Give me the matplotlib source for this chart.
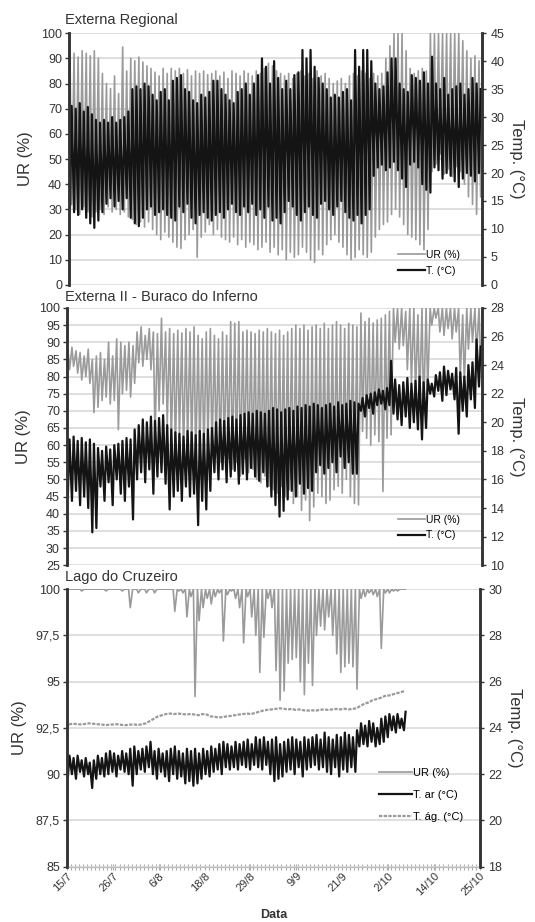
import numpy as np
import matplotlib
matplotlib.use('Agg')
import matplotlib.pyplot as plt
from matplotlib.ticker import FixedLocator, MultipleLocator

plt.rcParams['font.family'] = ['Liberation Sans', 'DejaVu Sans']

# eixo de datas: dias desde 15/7
date_labels = ['15/7', '26/7', '6/8', '18/8', '29/8', '9/9', '21/9', '2/10', '14/10', '25/10']
n_span = 102

# ---- Externa Regional (max/min diarios) ----
t1_max = [32, 31.5, 32.5, 31, 31.8, 30.5, 29.5,
          29, 29.5, 29, 30, 29, 29.5, 30, 31,
          35, 35.5, 35, 36, 35.5, 34, 33, 34.5, 35, 33,
          36.5, 37, 37.5, 35, 34.5, 33, 32.5, 34, 33.5, 34.5,
          36.5, 36.5, 35, 34, 33, 32.5, 34.5, 35, 36, 34,
          36, 37.5, 40.5, 39, 36, 40, 37, 35, 36.5, 35,
          37.5, 38, 42, 40.5, 42, 39, 37, 36, 35, 33.5,
          34, 33.5, 34.5, 35, 33, 42, 39, 42, 42, 40,
          36, 35, 35.5, 38, 40.5, 40.5, 36, 35, 34.5, 37.5,
          37, 36.5, 38, 36, 40.8, 36, 35, 37, 34, 35,
          35.5, 36, 34, 35, 37, 36, 35]
t1_min = [14, 13, 12.5, 13.5, 12, 11, 10.2,
          11.5, 13, 14.5, 15.5, 14, 15, 13.5, 15.5,
          12, 11, 10.5, 12, 13.5, 14, 12.5, 13, 13.5, 12.5,
          12, 11.5, 14, 13, 14.5, 12, 11, 12.5, 13, 12,
          11.5, 12.5, 13, 12, 13.5, 14.5, 13, 12.5, 14, 13,
          14.5, 12.5, 13.5, 12, 14, 11.5, 12, 11, 13, 15,
          14, 12.5, 11.5, 13, 14, 12.5, 12, 14.5, 15, 13.5,
          12.5, 14, 15, 13, 12, 11.5, 12.5, 11, 12.5, 13.5,
          19.5, 21, 21.5, 20.5, 21, 22, 20.5, 19, 17.5, 21.5,
          22, 21, 18, 17, 16.5, 21, 20.5, 19, 20, 19.5,
          18.5, 17.5, 19, 20, 19.5, 18.5, 20]
ur1_max = [91, 92, 90.5, 93, 92, 91, 93,
           90, 84, 80, 78, 83, 76, 94.5, 85,
           90, 89, 90.5, 88.5, 87, 86, 84.5, 83, 86, 84,
           86, 85, 86, 84, 85.5, 83, 85, 84, 85, 83.5,
           84, 85, 83, 84.5, 82, 85, 84, 83, 85, 84,
           83, 85, 84, 86, 88, 87, 85, 84, 83, 84,
           82, 84, 85, 83, 84, 82, 85, 83, 84, 82,
           80, 81, 82, 80, 83, 84, 83, 85, 84, 82,
           84, 83, 84, 90, 95, 100, 100, 100, 93, 86,
           84, 85, 86, 85, 100, 100, 100, 100, 100, 100,
           100, 100, 97, 93, 90, 91, 89]
ur1_min = [32, 30, 28, 31, 29, 27, 29,
           30, 28, 31, 29, 30, 28, 29, 27,
           26, 24, 25, 23, 25, 22, 20, 18, 21, 19,
           17, 15, 14.5, 18, 20, 22, 11, 19, 21, 24,
           20, 22, 19, 18, 17, 19, 16, 18, 15, 17,
           16, 14, 15, 17, 13, 15, 12, 14, 10, 13,
           11, 12, 15, 13, 10, 9, 14, 12, 16, 18,
           20, 17, 15, 12, 10, 11, 14, 12, 11, 13,
           19, 22, 24, 25, 28, 30, 27, 24, 20, 19,
           18, 16, 14, 22, 45, 48, 52, 44, 46, 43,
           47, 45, 40, 35, 32, 28, 35]

# ---- Externa II - Buraco do Inferno ----
t2_max = [18.8, 19, 18.7, 18.9, 18.6, 18.8, 18.5, 18.2,
          18, 18.3, 18.1, 18.4, 18.5, 18.7, 18.9, 18.8,
          19.5, 19.8, 20.2, 20, 20.4, 20.1, 20.3, 20.5,
          19.8, 19.5, 19.3, 19.2, 19, 19.4, 19.3, 19.1,
          19.4, 19.2, 19.5, 19.6, 20, 20.2, 20.1, 20.3,
          20.4, 20.2, 20.5, 20.6, 20.7, 20.6, 20.8, 20.7,
          20.6, 20.8, 21, 20.9, 20.7, 20.9, 21, 20.8,
          21.1, 21, 21.2, 21.1, 21.3, 21.2, 21, 21.2,
          21.3, 21.1, 21.4, 21.2, 21.3, 21.5, 21.4, 21.3,
          21.7, 21.9, 22, 22.1, 22.3, 22.2, 22.4, 24.3,
          23, 22.6, 22.8, 23.1, 22.7, 22.9, 23.2, 22.8,
          23, 22.7, 23.3, 23.5, 23.9, 23.6, 23.4, 23.8,
          23.5, 23.2, 24, 24.2, 25.8, 25.3]
t2_min = [15, 14.5, 15.2, 14.2, 14.8, 14, 12.3, 12.6,
          15.5, 14.5, 15.8, 14.2, 16, 15, 14.5, 15.5,
          13.2, 16, 16.5, 15.8, 16.7, 15, 16.2, 16.5,
          15.7, 13.9, 14.8, 15.2, 14.5, 15.5, 14.8, 15,
          12.8, 14.5, 13.9, 15.2, 16.5, 16, 16.7, 15.8,
          16.2, 16.6, 15.7, 16.4, 16, 16.8, 16.2, 15.9,
          16.5, 15.5, 14.8, 14.2, 13.4, 13.8, 14.6, 15.2,
          14.8, 15.7, 15, 15.4, 15.2, 16.5, 17, 16.4,
          16.8, 17.2, 16.5, 17.6, 16.8, 17.2, 16.4, 16.4,
          20.8, 20.4, 21, 20.6, 21.2, 21.3, 20.9, 21.2,
          20.6, 20.2, 19.8, 20.4, 19.6, 20, 19.5, 18.8,
          19.6, 22, 21.8, 22.2, 21.5, 21.9, 22.3, 21.6,
          19.2, 20.8, 20.4, 21.6, 21, 22.5]
ur2_max = [88, 88.5, 87.5, 87, 86, 88, 85, 86,
           87, 85, 90, 86, 91, 90, 89, 90,
           89, 93, 94.5, 92, 94, 93, 92.5, 97,
           93, 94, 92.5, 93.5, 92.7, 94, 93, 94.5,
           92, 91, 93, 94, 92, 91, 93, 92,
           96, 95.5, 96, 93, 93.5, 93, 92.5, 93.5,
           93, 94, 93, 92.5, 93.5, 92, 93, 94,
           95, 94, 95, 93.5, 94.5, 95, 94, 95.5,
           94, 95, 96, 95, 94, 95.5, 95, 94.5,
           98.5, 96, 97, 95.6, 96.5, 97, 98, 99,
           100, 100, 100, 99, 100, 100, 98, 100,
           100, 100, 100, 100, 100, 100, 100, 100,
           100, 98, 100, 100, 100, 100]
ur2_min = [82, 83, 81, 79, 80, 78, 69.5, 71,
           73, 74, 72, 73, 64.5, 75, 76, 74,
           78, 84, 83, 85, 82, 62, 70, 72,
           66, 60, 58, 62, 56, 60, 58, 55,
           58, 56, 60, 57, 58, 55, 57, 56,
           53, 55, 51, 56, 52, 53, 50, 49,
           51, 48, 47, 46, 48, 45, 47, 43,
           45, 41, 44, 38, 42, 46, 45, 43,
           44, 47, 48, 46, 50, 45, 43, 42.6,
           64, 62, 60, 63, 61, 46.5, 62, 63,
           90, 88, 89, 82, 78, 75, 72, 69,
           76, 95, 97, 93, 92, 94, 91, 93,
           80, 78, 88, 90, 86, 85]

# ---- Lago do Cruzeiro (84 dias) ----
ur3_max = [100] * 84
ur3_min = [100, 100, 100, 99.9, 100, 100, 100, 100, 100, 99.9,
           100, 100, 100, 99.9, 100, 99, 100, 99.8, 100, 99.8,
           100, 99.8, 100, 100, 100, 100, 98.8, 99.9, 99.8, 98.5,
           99.6, 94.2, 98.3, 99, 99.5, 99.2, 99.6, 99.8, 97.2, 99.7,
           99.9, 99.5, 99, 97.1, 99.6, 98.5, 97.5, 95.5, 97.4, 99.5,
           99, 95.6, 94.0, 94.5, 96, 96.2, 96.3, 95, 94.3, 96,
           94.8, 97.5, 98, 97.8, 98.5, 97.5, 96.5, 95.5, 95.8, 96,
           95.8, 94.6, 99.5, 99.6, 99.8, 99.7, 99.6, 96.8, 99.8, 99.8,
           99.9, 99.9, 100, 100]
t3_max = [22.8, 22.7, 22.8, 22.6, 22.7, 22.5, 22.6, 22.8, 22.7, 22.9,
          23, 22.9, 22.8, 23, 22.9, 23.1, 23.2, 23, 23.1, 23.2,
          23.4, 23, 23.1, 22.9, 23, 23.1, 23.2, 23, 22.9, 23.1,
          23, 23.1, 22.9, 23.1, 23, 23.2, 23.1, 23.3, 23.4, 23.3,
          23.2, 23.4, 23.3, 23.4, 23.5, 23.3, 23.6, 23.5, 23.6, 23.4,
          23.5, 23.6, 23.3, 23.4, 23.5, 23.6, 23.5, 23.4, 23.6, 23.5,
          23.6, 23.7, 23.5, 23.8, 23.6, 23.5, 23.7, 23.6, 23.8, 23.7,
          23.6, 23.9, 24.2, 24.1, 24.3, 24.2, 24, 24.4, 24.5, 24.6,
          24.5, 24.6, 24.4, 24.7]
t3_min = [21.9, 22, 21.8, 22.1, 21.9, 22, 21.4, 21.8, 22, 21.9,
          22, 22.1, 21.9, 22.2, 22.1, 22, 21.5, 22, 22.2, 22.1,
          22.3, 22, 21.8, 22.1, 21.9, 21.7, 22, 21.8, 21.9, 21.6,
          21.7, 21.5, 21.6, 21.8, 22, 21.9, 22.1, 22.2, 22, 22.3,
          22.2, 22.3, 22.2, 22.4, 22.3, 22.2, 22.4, 22.3, 22.2, 22.4,
          22, 21.7, 21.8, 21.9, 22.1, 22.2, 22, 22.3, 21.9, 22.2,
          22.3, 22.4, 22.2, 22.3, 22.1, 22, 22.3, 21.9, 22.2, 22.1,
          22.3, 22.1, 23.2, 23.3, 23.2, 23.4, 23.2, 23.3, 23.4, 23.6,
          23.9, 23.8, 24, 23.9]
t3_agua = [24.15, 24.18, 24.16, 24.15, 24.17, 24.2, 24.18, 24.16, 24.15, 24.12,
           24.14, 24.15, 24.16, 24.13, 24.12, 24.14, 24.15, 24.13, 24.15, 24.2,
           24.3, 24.4, 24.5, 24.55, 24.6, 24.62, 24.6, 24.62, 24.6, 24.58,
           24.6, 24.58, 24.55, 24.6, 24.58, 24.5, 24.48, 24.45, 24.47, 24.5,
           24.52, 24.55, 24.58, 24.6, 24.62, 24.6, 24.65, 24.7, 24.75, 24.78,
           24.8, 24.82, 24.85, 24.83, 24.8, 24.82, 24.78, 24.8, 24.76, 24.75,
           24.76, 24.75, 24.78, 24.8, 24.78, 24.8, 24.82, 24.8, 24.83, 24.8,
           24.82, 24.85, 24.95, 25.05, 25.1, 25.2, 25.25, 25.3, 25.38, 25.4,
           25.45, 25.5, 25.55, 25.6]

GRAY = '#9a9a9a'
DARK = '#141414'


def daily(first, second):
    # manha -> primeiro valor, tarde -> segundo valor
    d = np.arange(len(first))
    t = np.column_stack([d + 0.25, d + 0.65]).ravel()
    v = np.column_stack([first, second]).ravel()
    return t, v


def setup(ax, ax2, ylim, yticks, ylim2, yticks2, ylabels=None):
    ax.set_xlim(0, n_span)
    ax.set_ylim(*ylim)
    ax.set_yticks(yticks)
    if ylabels is not None:
        ax.set_yticklabels(ylabels)
    ax2.set_ylim(*ylim2)
    ax2.set_yticks(yticks2)
    ax.grid(axis='y', color='#d9d9d9', lw=1.2)
    ax.set_axisbelow(True)
    for a in (ax, ax2):
        a.spines['top'].set_visible(False)
        a.spines['bottom'].set_visible(False)
        a.spines['left'].set_linewidth(1.8)
        a.spines['left'].set_color('#333333')
        a.spines['right'].set_linewidth(1.8)
        a.spines['right'].set_color('#333333')
    ax.tick_params(axis='y', labelsize=9, length=3, width=1, colors='#333333', pad=2)
    ax2.tick_params(axis='y', labelsize=9, length=3, width=1, colors='#333333', pad=3)
    ax.set_ylabel('UR (%)', fontsize=12, color='#333333', labelpad=6)
    ax2.set_ylabel('Temp. (°C)', fontsize=12, color='#333333', rotation=270, labelpad=14)
    ax.tick_params(axis='x', bottom=False, labelbottom=False)


fig = plt.figure(figsize=(5.35, 9.22), dpi=100)

# painel 1
ax = fig.add_axes([0.129, 0.691, 0.772, 0.273])
ax2 = ax.twinx()
t, v = daily(ur1_max, ur1_min)
l1, = ax.plot(t, v, color=GRAY, lw=1.2)
t, v = daily(t1_min, t1_max)
l2, = ax2.plot(t, v, color=DARK, lw=1.6)
setup(ax, ax2, (0, 100), range(0, 101, 10), (0, 45), range(0, 46, 5))
ax2.legend([l1, l2], ['UR (%)', 'T. (°C)'], loc='lower right', bbox_to_anchor=(0.97, 0.0),
           frameon=False, fontsize=7.5, handlelength=2.6, handletextpad=0.1, labelspacing=0.55)
fig.text(0.122, 0.978, 'Externa Regional', fontsize=10.5, color='#333333', va='center')

# painel 2
ax = fig.add_axes([0.125, 0.387, 0.776, 0.279])
ax2 = ax.twinx()
t, v = daily(ur2_max, ur2_min)
l1, = ax.plot(t, v, color=GRAY, lw=1.2)
t, v = daily(t2_min, t2_max)
l2, = ax2.plot(t, v, color=DARK, lw=1.6)
setup(ax, ax2, (25, 100), range(25, 101, 5), (10, 28), range(10, 29, 2))
ax2.legend([l1, l2], ['UR (%)', 'T. (°C)'], loc='lower right', bbox_to_anchor=(0.97, 0.06),
           frameon=False, fontsize=7.5, handlelength=2.6, handletextpad=0.1, labelspacing=0.55)
fig.text(0.122, 0.678, 'Externa II - Buraco do Inferno', fontsize=10.5, color='#333333', va='center')

# painel 3
ax = fig.add_axes([0.125, 0.060, 0.772, 0.301])
ax2 = ax.twinx()
t, v = daily(ur3_max, ur3_min)
l1, = ax.plot(t, v, color=GRAY, lw=1.2)
t, v = daily(t3_min, t3_max)
l2, = ax2.plot(t, v, color=DARK, lw=1.6)
l3, = ax2.plot(np.arange(len(t3_agua)) + 0.5, t3_agua, color=GRAY, lw=1.6, ls=(0, (1.5, 0.6)))
setup(ax, ax2, (85, 100), np.arange(85, 100.1, 2.5), (18, 30), range(18, 31, 2),
      ylabels=['85', '87,5', '90', '92,5', '95', '97,5', '100'])
ax2.legend([l1, l2, l3], ['UR (%)', 'T. ar (°C)', 'T. ág. (°C)'], loc='lower right',
           bbox_to_anchor=(0.985, 0.125), frameon=False, fontsize=8, handlelength=3.0,
           handletextpad=0.1, labelspacing=1.1)
fig.text(0.122, 0.374, 'Lago do Cruzeiro', fontsize=10.5, color='#333333', va='center')

ax.spines['bottom'].set_visible(True)
ax.spines['bottom'].set_color('#bbbbbb')
ax.xaxis.set_major_locator(FixedLocator(np.linspace(0, n_span, len(date_labels))))
ax.set_xticklabels(date_labels, rotation=45, fontsize=8, color='#333333')
ax.xaxis.set_minor_locator(MultipleLocator(1))
ax.tick_params(axis='x', which='both', bottom=True, labelbottom=True, direction='inout',
               length=4, width=0.8, colors='#aaaaaa', labelcolor='#333333', pad=1)
for lab in ax.get_xticklabels():
    lab.set_ha('right')
    lab.set_rotation_mode('anchor')
ax.set_xlabel('Data', fontsize=9, fontweight='bold', color='#333333', labelpad=8)

fig.savefig('out.png', dpi=100)
